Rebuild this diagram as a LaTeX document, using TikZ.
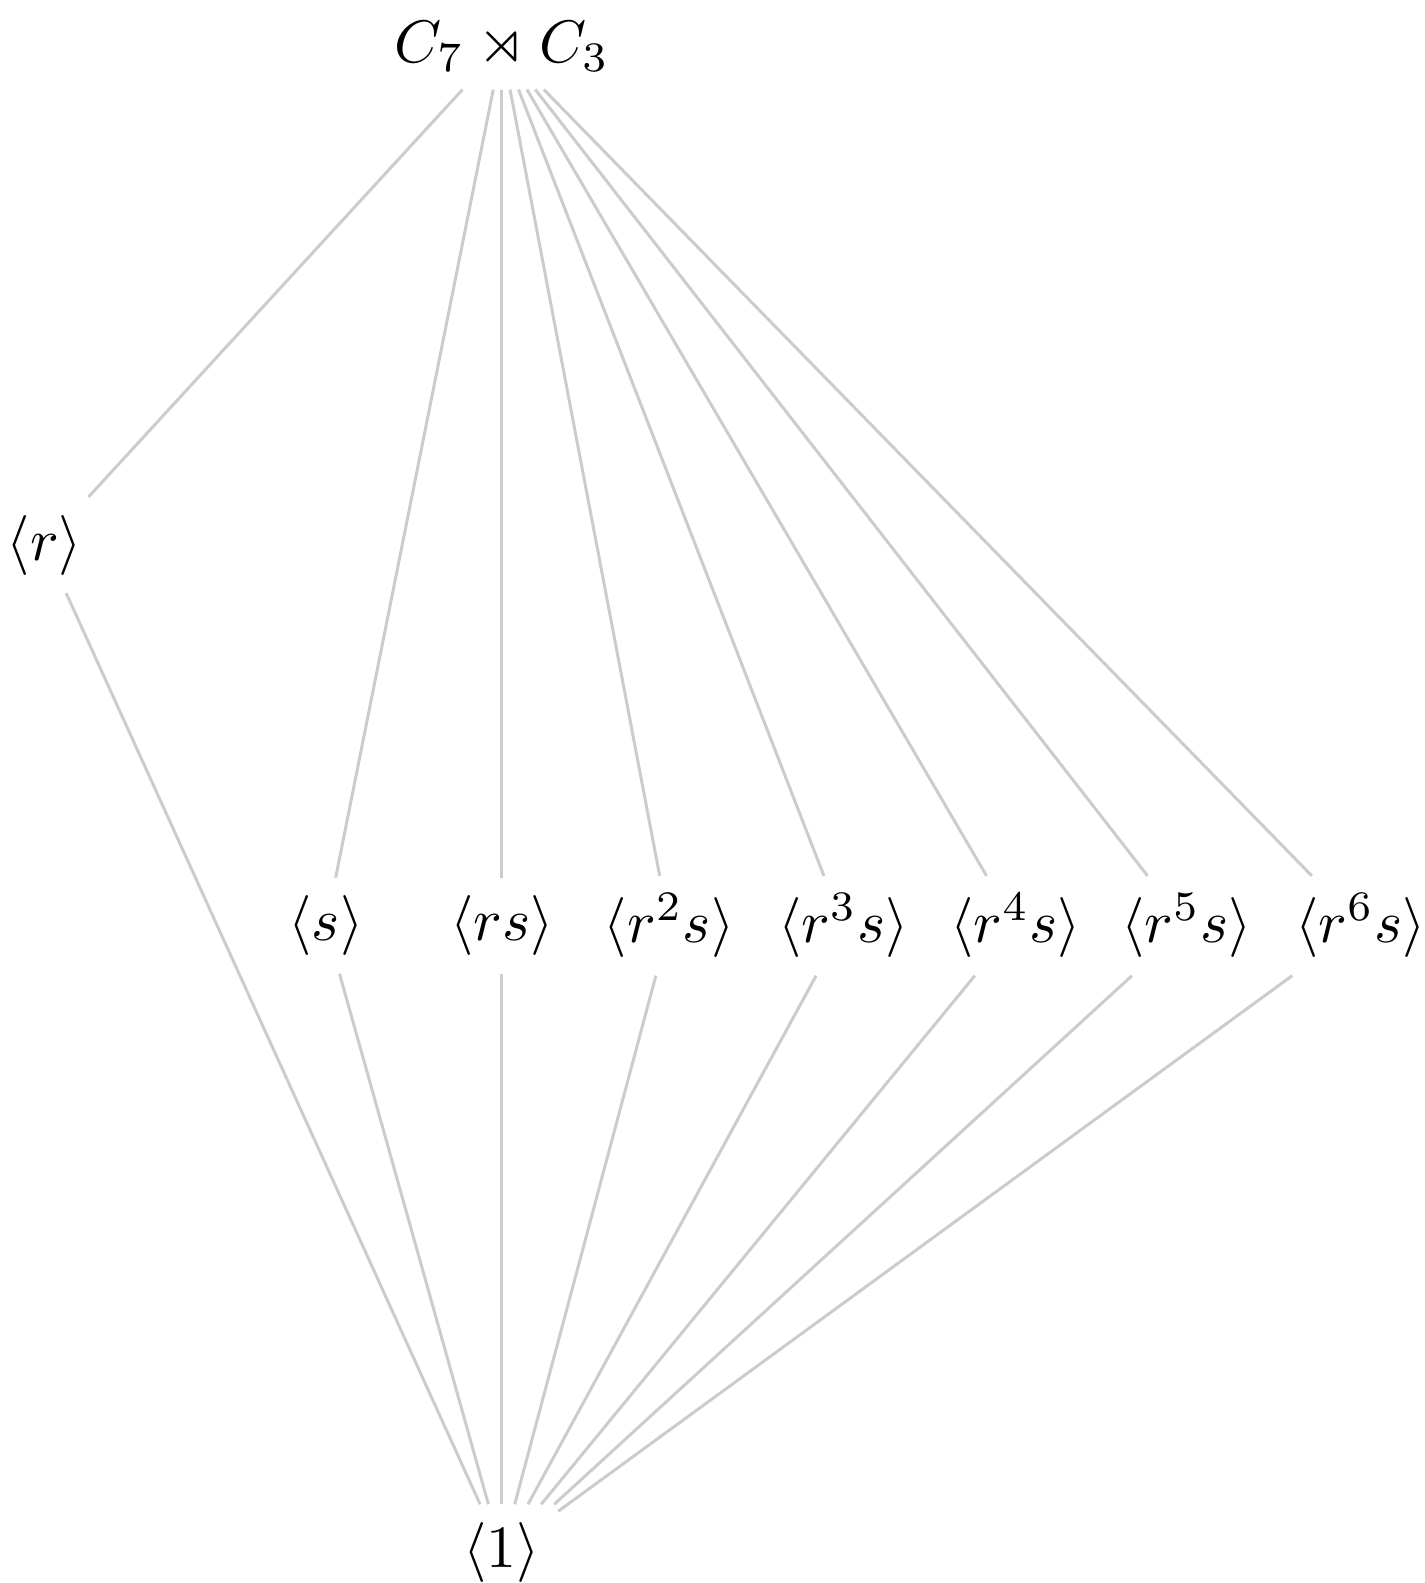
\documentclass[tikz,border=0pt]{standalone}
\usepackage{amsmath,amssymb}

\begin{document}
\begin{tikzpicture}[grp/.style={rectangle,inner sep=2.8pt,font=\fontsize{10.4}{12.5}\selectfont},
  link/.style={draw=gray!40,line width=0.5pt}]
\useasboundingbox (0,0) rectangle (8.342,9.273);

\path
(2.94,9.00) node [grp] (whole) {$C_7 \rtimes C_3$}
(0.26,6.08) node [grp] (r) {$\langle r\rangle$}
(1.91,3.85) node [grp] (s0) {$\langle s\rangle$}
(2.94,3.85) node [grp] (s1) {$\langle rs\rangle$}
(3.92,3.85) node [grp] (s2) {$\langle r^2s\rangle$}
(4.94,3.85) node [grp] (s3) {$\langle r^3s\rangle$}
(5.95,3.85) node [grp] (s4) {$\langle r^4s\rangle$}
(6.95,3.85) node [grp] (s5) {$\langle r^5s\rangle$}
(7.97,3.85) node [grp] (s6) {$\langle r^6s\rangle$}
(2.94,0.18) node [grp] (one) {$\langle 1\rangle$}
;

\draw[link] (whole) -- (r);
\draw[link] (r) -- (one);
\foreach \i in {0,...,6} {
  \draw[link] (whole) -- (s\i);
  \draw[link] (s\i) -- (one);
}
\end{tikzpicture}
\end{document}
